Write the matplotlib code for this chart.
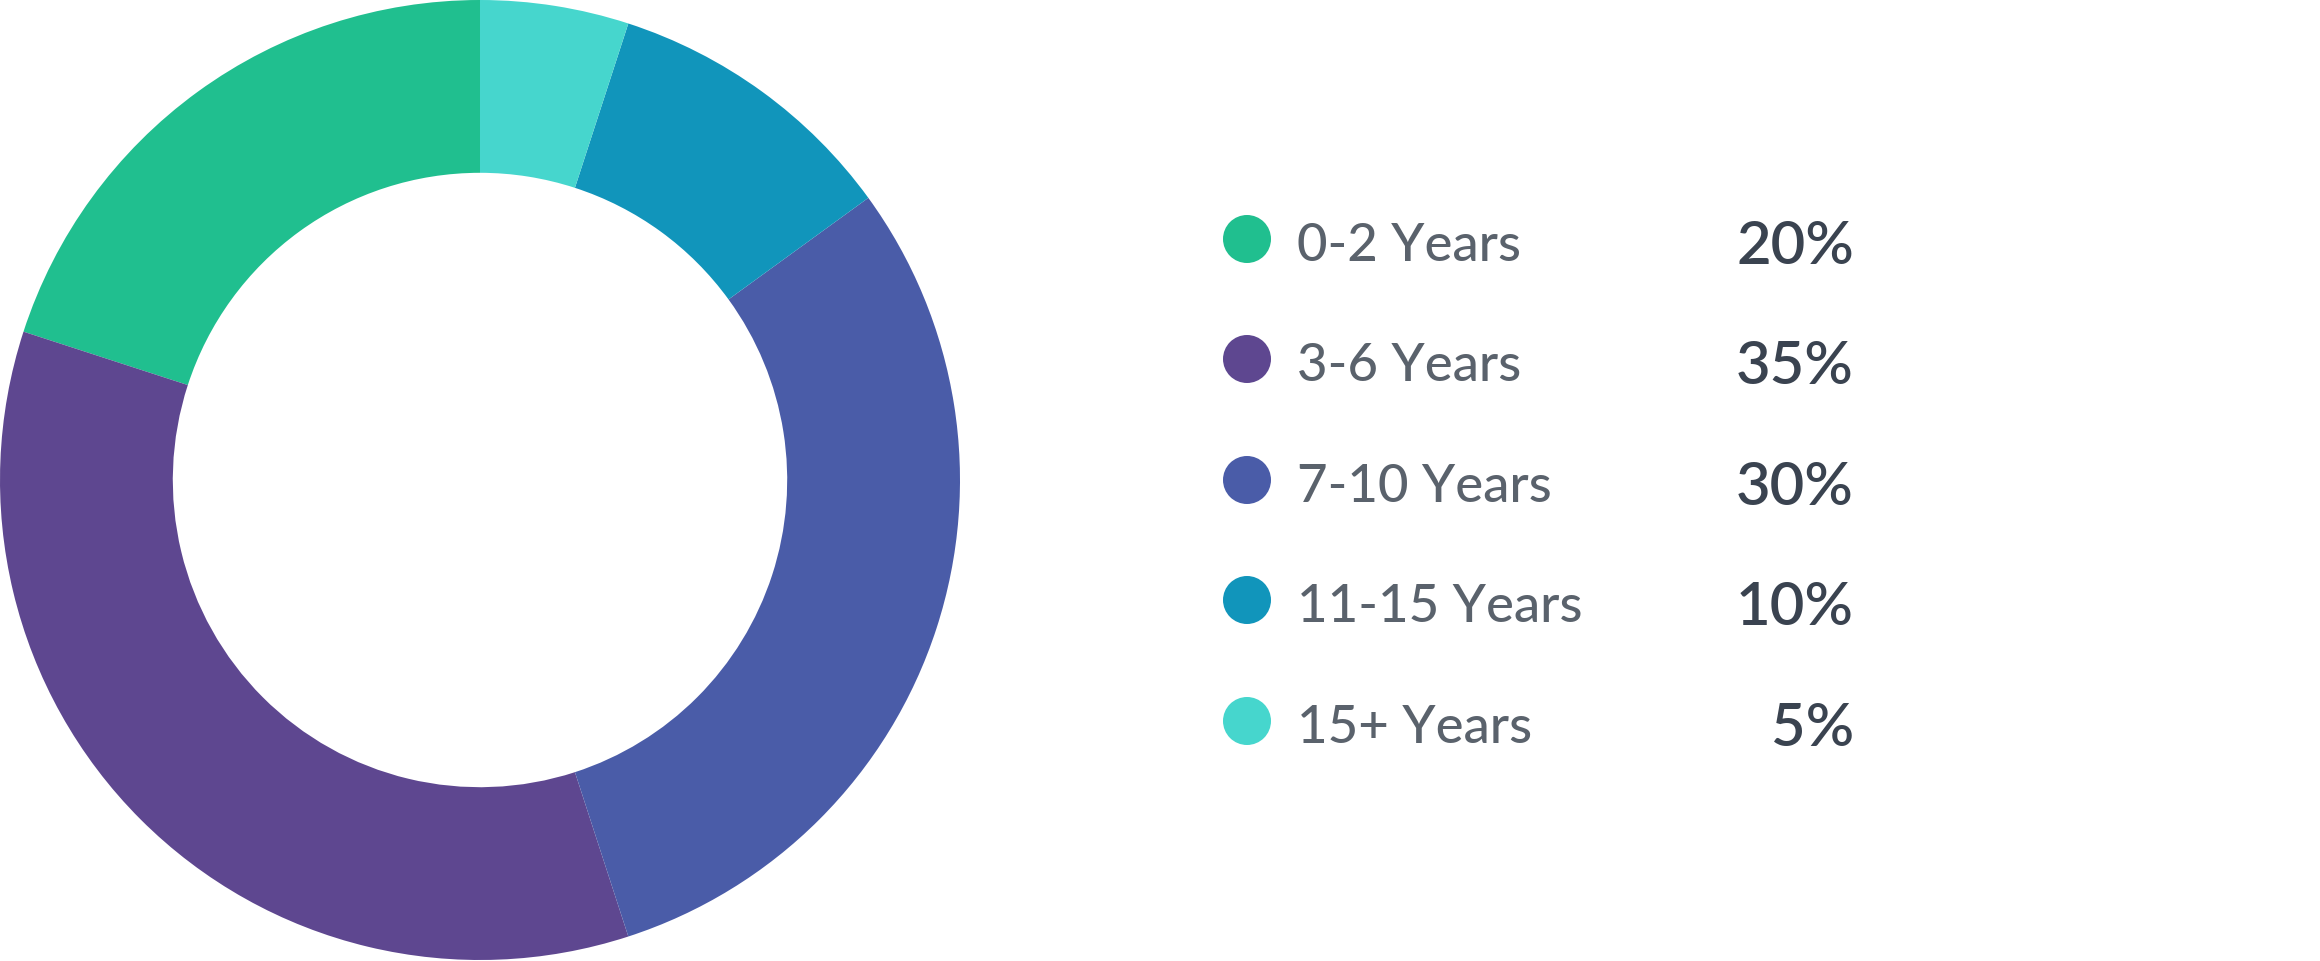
import matplotlib
matplotlib.use("Agg")
import matplotlib.pyplot as plt
from matplotlib.patches import Circle

labels = ["0-2 Years", "3-6 Years", "7-10 Years", "11-15 Years", "15+ Years"]
shares = [20, 35, 30, 10, 5]
colors = ["#20BF8F", "#5E4790", "#4A5CA8", "#1195BB", "#46D6CD"]

W, H = 2320, 962
fig = plt.figure(figsize=(W / 100, H / 100), dpi=100)
fig.patch.set_facecolor("white")

# donut, starting at 12 o'clock, counterclockwise
ax = fig.add_axes([0, 1 / H, 960 / W, 960 / H])
ax.pie(shares, colors=colors, startangle=90, counterclock=True, radius=1,
       wedgeprops=dict(width=0.36, linewidth=0))
ax.set_xlim(-1, 1); ax.set_ylim(-1, 1); ax.set_aspect("equal"); ax.axis("off")

# legend drawn in pixel coords
lg = fig.add_axes([0, 0, 1, 1])
lg.set_xlim(0, W); lg.set_ylim(H, 0); lg.axis("off")
rows = [240, 360, 481, 601, 722]
for y, lab, v, c in zip(rows, labels, shares, colors):
    lg.add_patch(Circle((1247, y), 24, color=c, lw=0))
    lg.text(1297, y + 21, lab, fontsize=38, family="Lato", color="#5A626C",
            fontweight="medium", va="baseline", ha="left")
    lg.text(1854, y + 24, f"{v}%", fontsize=43, family="Lato", color="#3A4350",
            fontweight="semibold", va="baseline", ha="right")

fig.savefig("out.png", dpi=100)
